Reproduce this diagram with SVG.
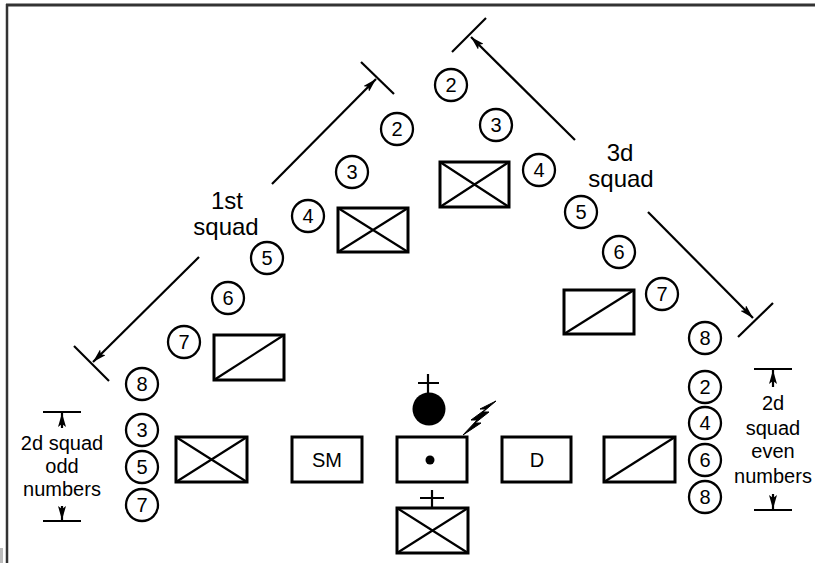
<svg xmlns="http://www.w3.org/2000/svg" width="815" height="563" viewBox="0 0 815 563">
<defs>
<style>
.c{fill:#fff;stroke:#000;stroke-width:2.3}
.n{font-family:"Liberation Sans",Arial,sans-serif;font-size:20px;text-anchor:middle;fill:#000}
.r{fill:#fff;stroke:#000;stroke-width:3}
.d{stroke:#000;stroke-width:2.2;fill:none}
.l{stroke:#000;stroke-width:2.2;fill:none}
.t{font-family:"Liberation Sans",Arial,sans-serif;font-size:20px;text-anchor:middle;fill:#000}
.sq{font-family:"Liberation Sans",Arial,sans-serif;font-size:24px;text-anchor:middle;fill:#000}
</style>
<marker id="ah" viewBox="0 0 14 8" refX="14" refY="4" markerWidth="14" markerHeight="8" markerUnits="userSpaceOnUse" orient="auto">
<path d="M0,0 L14,4 L0,8 L3,4 Z" fill="#000"/>
</marker>
</defs>
<rect width="815" height="563" fill="#fff"/>
<g id="frame">
<line x1="6" y1="5" x2="815" y2="5" stroke="#333" stroke-width="3"/>
<line x1="7" y1="4" x2="7" y2="563" stroke="#333" stroke-width="2.5"/>
<rect x="0" y="548" width="3" height="15" fill="#bbb"/>
</g>
<g id="connectors">
<line class="l" x1="272" y1="184" x2="376" y2="79" marker-end="url(#ah)"/>
<line class="l" x1="361" y1="62" x2="394" y2="94"/>
<line class="l" x1="199" y1="257" x2="93" y2="362" marker-end="url(#ah)"/>
<line class="l" x1="74" y1="346" x2="109" y2="381"/>
<line class="l" x1="575" y1="140" x2="471" y2="37" marker-end="url(#ah)"/>
<line class="l" x1="452" y1="52" x2="486" y2="18"/>
<line class="l" x1="648" y1="212" x2="753" y2="318" marker-end="url(#ah)"/>
<line class="l" x1="738" y1="337" x2="773" y2="303"/>
<line class="l" x1="43" y1="412" x2="81" y2="412"/>
<line class="l" x1="62" y1="428" x2="62" y2="413" marker-end="url(#ah)"/>
<line class="l" x1="43" y1="521" x2="81" y2="521"/>
<line class="l" x1="62" y1="506" x2="62" y2="520" marker-end="url(#ah)"/>
<line class="l" x1="754" y1="369" x2="792" y2="369"/>
<line class="l" x1="773" y1="387" x2="773" y2="370" marker-end="url(#ah)"/>
<line class="l" x1="754" y1="510" x2="792" y2="510"/>
<line class="l" x1="773" y1="494" x2="773" y2="509" marker-end="url(#ah)"/>
</g>
<g id="labels">
<text class="sq" x="227" y="209">1st</text>
<text class="sq" x="226" y="235">squad</text>
<text class="sq" x="620" y="161">3d</text>
<text class="sq" x="621" y="187">squad</text>
<text class="t" x="62" y="450">2d squad</text>
<text class="t" x="62" y="473">odd</text>
<text class="t" x="62" y="496">numbers</text>
<text class="t" x="773" y="410">2d</text>
<text class="t" x="773" y="435">squad</text>
<text class="t" x="773" y="458">even</text>
<text class="t" x="773" y="483">numbers</text>
</g>
<g id="squad1">
<g id="s1-2"><circle class="c" cx="397" cy="129" r="16"/><text class="n" x="397" y="136">2</text></g>
<g id="s1-3"><circle class="c" cx="352" cy="172" r="16"/><text class="n" x="352" y="179">3</text></g>
<g id="s1-4"><circle class="c" cx="308" cy="216" r="16"/><text class="n" x="308" y="223">4</text></g>
<g id="s1-5"><circle class="c" cx="267" cy="258" r="16"/><text class="n" x="267" y="265">5</text></g>
<g id="s1-6"><circle class="c" cx="228" cy="298" r="16"/><text class="n" x="228" y="305">6</text></g>
<g id="s1-7"><circle class="c" cx="184" cy="342" r="16"/><text class="n" x="184" y="349">7</text></g>
<g id="s1-8"><circle class="c" cx="142" cy="384" r="16"/><text class="n" x="142" y="391">8</text></g>
</g>
<g id="squad3">
<g id="s3-2"><circle class="c" cx="451" cy="85" r="16"/><text class="n" x="451" y="92">2</text></g>
<g id="s3-3"><circle class="c" cx="496" cy="125" r="16"/><text class="n" x="496" y="132">3</text></g>
<g id="s3-4"><circle class="c" cx="539" cy="170" r="16"/><text class="n" x="539" y="177">4</text></g>
<g id="s3-5"><circle class="c" cx="581" cy="212" r="16"/><text class="n" x="581" y="219">5</text></g>
<g id="s3-6"><circle class="c" cx="619" cy="252" r="16"/><text class="n" x="619" y="259">6</text></g>
<g id="s3-7"><circle class="c" cx="662" cy="294" r="16"/><text class="n" x="662" y="301">7</text></g>
<g id="s3-8"><circle class="c" cx="705" cy="338" r="16"/><text class="n" x="705" y="345">8</text></g>
</g>
<g id="squad2odd">
<g id="s2-3"><circle class="c" cx="142" cy="430" r="16"/><text class="n" x="142" y="437">3</text></g>
<g id="s2-5"><circle class="c" cx="142" cy="467" r="16"/><text class="n" x="142" y="474">5</text></g>
<g id="s2-7"><circle class="c" cx="142" cy="505" r="16"/><text class="n" x="142" y="512">7</text></g>
</g>
<g id="squad2even">
<g id="s2-2"><circle class="c" cx="705" cy="387" r="16"/><text class="n" x="705" y="394">2</text></g>
<g id="s2-4"><circle class="c" cx="705" cy="423" r="16"/><text class="n" x="705" y="430">4</text></g>
<g id="s2-6"><circle class="c" cx="705" cy="460" r="16"/><text class="n" x="705" y="467">6</text></g>
<g id="s2-8"><circle class="c" cx="705" cy="497" r="16"/><text class="n" x="705" y="504">8</text></g>
</g>
<g id="box-top"><rect class="r" x="440" y="162" width="69" height="45"/><path class="d" d="M440,162 L509,207 M509,162 L440,207"/></g>
<g id="box-left-upper"><rect class="r" x="338" y="208" width="70" height="44"/><path class="d" d="M338,208 L408,252 M408,208 L338,252"/></g>
<g id="box-left-lower"><rect class="r" x="214" y="335" width="70" height="45"/><path class="d" d="M214,380 L284,335"/></g>
<g id="box-right-upper"><rect class="r" x="564" y="290" width="70" height="44"/><path class="d" d="M564,334 L634,290"/></g>
<g id="box-bottom-x"><rect class="r" x="176" y="437" width="71" height="45"/><path class="d" d="M176,437 L247,482 M247,437 L176,482"/></g>
<g id="box-sm"><rect class="r" x="292" y="437" width="70" height="45"/><text class="t" x="327" y="467">SM</text></g>
<g id="box-hq"><rect class="r" x="397" y="437" width="70" height="45"/><circle cx="430" cy="460" r="4.5" fill="#000"/></g>
<g id="box-d"><rect class="r" x="502" y="437" width="69" height="45"/><text class="t" x="537" y="467">D</text></g>
<g id="box-bottom-slash"><rect class="r" x="604" y="437" width="71" height="45"/><path class="d" d="M604,482 L675,437"/></g>
<g id="leader"><circle cx="429" cy="409" r="16.5" fill="#000"/><path class="d" d="M428,374 L428,393 M418,383 L439,383"/></g>
<g id="radio"><path d="M463,435 L477,420 L471,420 L486,409 L480,409 L496,401 L483,412 L489,412 L475,423 L481,423 Z" fill="#000" stroke="#000" stroke-width="1" stroke-linejoin="round"/></g>
<g id="box-sergeant"><rect class="r" x="397" y="508" width="71" height="45"/><path class="d" d="M397,508 L468,553 M468,508 L397,553 M432,490 L432,508 M420,498 L444,498"/></g>
</svg>
